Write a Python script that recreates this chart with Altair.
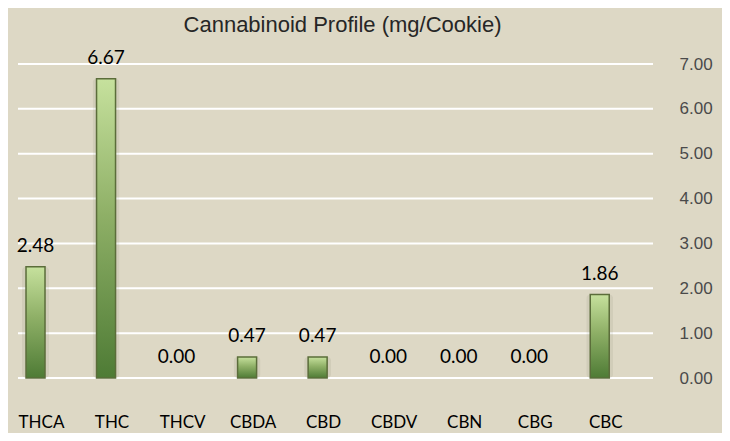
import altair as alt
import pandas as pd

categories = ["THCA", "THC", "THCV", "CBDA", "CBD", "CBDV", "CBN", "CBG", "CBC"]
values = [2.48, 6.67, 0.00, 0.47, 0.47, 0.00, 0.00, 0.00, 1.86]
y_ticks = [0, 1, 2, 3, 4, 5, 6, 7]
title_text = ["Cannabinoid Profile (mg/Cookie)"]

df = pd.DataFrame({"cat": categories, "value": values})
ticks_df = pd.DataFrame({"tick": y_ticks})
title_df = pd.DataFrame({"t": title_text})

BG = "#DDD8C5"

yscale = alt.Scale(domain=[0, 7], nice=False, zero=True)
xscale = alt.Scale(domain=categories, range=[-7.75, 627], paddingInner=0, paddingOuter=0)

x_enc = alt.X(
    "cat:N",
    scale=xscale,
    sort=categories,
    axis=alt.Axis(
        orient="bottom",
        title=None,
        labelAngle=0,
        domain=False,
        ticks=False,
        tickSize=0,
        labelPadding=49,
        labelBaseline="alphabetic",
        labelOffset=6,
        labelFont="Lato",
        labelFontSize=17,
        labelColor="#000000",
    ),
)

grid = alt.Chart(ticks_df).mark_rule(color="white", strokeWidth=2).encode(
    y=alt.Y(
        "tick:Q",
        scale=yscale,
        axis=alt.Axis(
            orient="right",
            title=None,
            values=y_ticks,
            format=".2f",
            grid=False,
            domain=False,
            ticks=False,
            tickSize=0,
            labelPadding=26,
            labelFont="Liberation Sans",
            labelFontSize=17,
            labelColor="#4A4A4A",
        ),
    ),
    x=alt.value(10),
    x2=alt.value(645),
)

base = alt.Chart(df)

shadow = base.transform_filter("datum.value > 0").mark_bar(
    size=27, color="#6E6A55", opacity=0.10, cornerRadius=4
).encode(x=x_enc, y=alt.Y("value:Q", scale=yscale))

bars = base.transform_filter("datum.value > 0").mark_bar(
    size=19,
    stroke="#5B6D3A",
    strokeWidth=1.5,
    color=alt.Gradient(
        gradient="linear",
        stops=[
            alt.GradientStop(color="#C6E19D", offset=0),
            alt.GradientStop(color="#8FB067", offset=0.45),
            alt.GradientStop(color="#4E7B35", offset=1),
        ],
        x1=0, x2=0, y1=0, y2=1,
    ),
).encode(x=x_enc, y=alt.Y("value:Q", scale=yscale))

labels = base.mark_text(
    baseline="alphabetic", dy=-15, font="Lato", fontSize=19, color="#000000"
).encode(
    x=x_enc,
    y=alt.Y("value:Q", scale=yscale),
    text=alt.Text("value:Q", format=".2f"),
)

title = alt.Chart(title_df).mark_text(
    font="Liberation Sans",
    fontSize=22,
    color="#262626",
    align="center",
    baseline="alphabetic",
).encode(
    text="t:N",
    x=alt.value(334.5),
    y=alt.value(-32.3),
)

chart = (
    alt.layer(grid, shadow, bars, labels, title)
    .properties(
        width=645,
        height=314,
        autosize=alt.AutoSizeParams(type="none"),
        padding={"left": 0, "top": 56, "right": 69, "bottom": 55},
    )
    .configure(background=BG)
    .configure_view(stroke=None)
)

chart.save("out.html", embed_options={"renderer": "svg", "actions": False})
